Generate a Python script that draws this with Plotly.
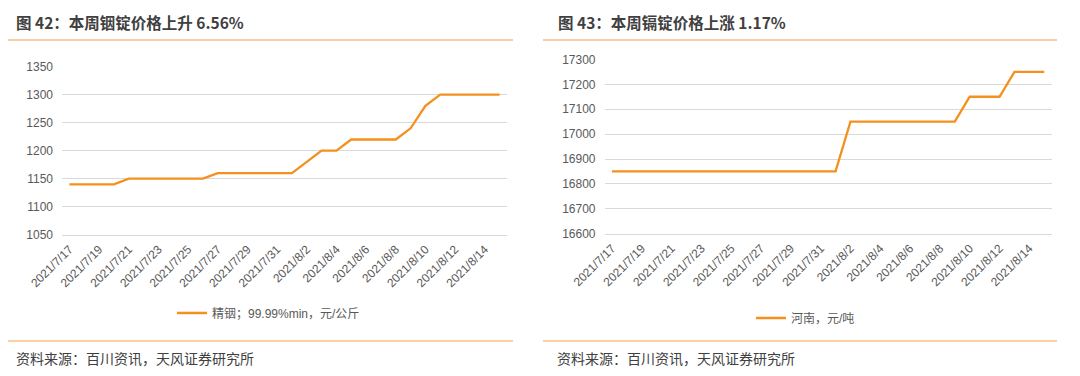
import plotly.graph_objects as go
import pandas as pd

# ---- data ----
dates = pd.date_range("2021-07-17", "2021-08-15", freq="D").strftime("%Y-%m-%d").tolist()
indium_price = [1140, 1140, 1140, 1140,
                1150, 1150, 1150, 1150, 1150, 1150,
                1160, 1160, 1160, 1160, 1160, 1160,
                1180,
                1200, 1200,
                1220, 1220, 1220, 1220,
                1240, 1280,
                1300, 1300, 1300, 1300, 1300]
cadmium_price = [16850] * 16 + [17050] * 8 + [17150] * 3 + [17250] * 3
indium_name = "精铟；99.99%min，元/公斤"
cadmium_name = "河南，元/吨"
title_left = "图 42：本周铟锭价格上升 6.56%"
title_right = "图 43：本周镉锭价格上涨 1.17%"
source_text = "资料来源：百川资讯，天风证券研究所"

OFF = 8  # page body margin
W, H = 1080 - OFF, 376 - OFF
LINE = "#F5901E"
ACCENT = "#F8BE8A"
GRID = "#D9D9D9"
TICK = "#595959"
FONT = "Liberation Sans, Noto Sans CJK SC, sans-serif"

fig = go.Figure()
fig.add_trace(go.Scatter(x=dates, y=indium_price, mode="lines", name=indium_name,
                         line=dict(color=LINE, width=2.3), xaxis="x", yaxis="y",
                         legend="legend"))
fig.add_trace(go.Scatter(x=dates, y=cadmium_price, mode="lines", name=cadmium_name,
                         line=dict(color=LINE, width=2.3), xaxis="x2", yaxis="y2",
                         legend="legend2"))

def px(x):
    return (x - OFF) / W

def py(y):
    return 1 - (y - OFF) / H

xcommon = dict(type="date", range=["2021-07-16 12:00", "2021-08-15 12:00"],
               tick0="2021-07-17", dtick=2 * 86400000, tickformat="%Y/%-m/%-d",
               tickangle=-45, showgrid=False, zeroline=False,
               showline=True, linecolor=GRID, linewidth=1,
               automargin=False, ticklabelstandoff=2,
               ticks="", tickfont=dict(size=12, color=TICK, family=FONT))
ycommon = dict(showgrid=True, gridcolor=GRID, gridwidth=1, zeroline=False,
               showline=False, ticks="", tickformat="d", automargin=False,
               ticklabelstandoff=8,
               tickfont=dict(size=12, color=TICK, family=FONT))

fig.update_layout(
    template="none",
    width=W, height=H, margin=dict(l=0, r=0, t=0, b=0, pad=0),
    paper_bgcolor="white", plot_bgcolor="white",
    font=dict(family=FONT, color=TICK),
    xaxis=dict(domain=[px(62), px(507)], anchor="y", **xcommon),
    yaxis=dict(domain=[py(234.7), py(66.7)], anchor="x", range=[1050, 1350], dtick=50, **ycommon),
    xaxis2=dict(domain=[px(604.5), px(1051.7)], anchor="y2", **xcommon),
    yaxis2=dict(domain=[py(233.7), py(59.4)], anchor="x2", range=[16600, 17300], dtick=100, **ycommon),
    legend=dict(x=px(172), y=py(313), xanchor="left", yanchor="middle",
                orientation="h", font=dict(size=12, color=TICK, family=FONT),
                bgcolor="rgba(0,0,0,0)"),
    legend2=dict(x=px(751), y=py(318), xanchor="left", yanchor="middle",
                 orientation="h", font=dict(size=12, color=TICK, family=FONT),
                 bgcolor="rgba(0,0,0,0)"),
    showlegend=True,
)

shapes = []
for (x0, x1) in [(8, 513), (543, 1057)]:
    for yy in (40, 341):
        shapes.append(dict(type="line", xref="paper", yref="paper",
                           x0=px(x0), x1=px(x1), y0=py(yy), y1=py(yy),
                           line=dict(color=ACCENT, width=1.5)))
fig.update_layout(shapes=shapes)

annos = []
for (x0, t) in [(14, title_left), (556, title_right)]:
    annos.append(dict(xref="paper", yref="paper", x=px(x0), y=py(22), xanchor="left",
                      yanchor="middle", showarrow=False, text="<b>" + t + "</b>",
                      font=dict(size=15.5, color="#404040", family="Noto Sans CJK SC, sans-serif")))
for x0 in (14, 555):
    annos.append(dict(xref="paper", yref="paper", x=px(x0), y=py(358), xanchor="left",
                      yanchor="middle", showarrow=False, text=source_text,
                      font=dict(size=14, color="#404040", family="Noto Sans CJK SC, sans-serif")))
fig.update_layout(annotations=annos)

fig.write_html("out.html")
